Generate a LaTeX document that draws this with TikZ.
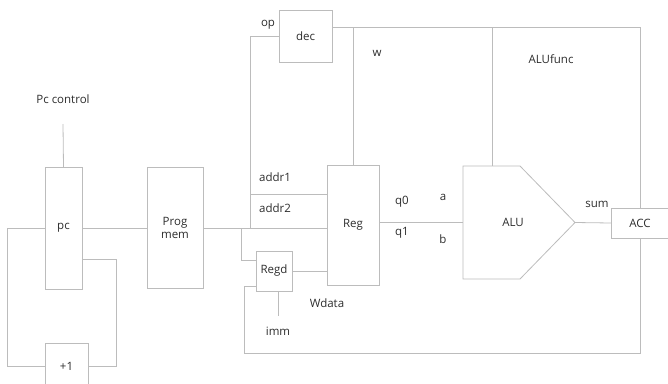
\documentclass[tikz,border=0pt]{standalone}
\usepackage{fontspec}
\setmainfont{Open Sans}
\definecolor{wiregray}{RGB}{188,188,188}
\definecolor{labelgray}{RGB}{45,45,45}
\begin{document}
\begin{tikzpicture}[
    x=1pt, y=-1pt,
    every node/.style={font=\fontsize{11.5}{13.5}\selectfont, text=labelgray, align=center},
    blk/.style={draw=wiregray, line width=0.8pt, inner sep=0pt, outer sep=0pt},
    wire/.style={draw=wiregray, line width=0.8pt},
  ]
\useasboundingbox (0,0) rectangle (668,383);
% --- bus heights
\def\yTop{27}
\def\yBus{228}
\def\yLoop{353}

% --- blocks
\node[blk, minimum width=37pt, minimum height=122pt] (pc) at (63.5,228) {pc};
\node[blk, minimum width=56pt, minimum height=121pt] (progmem) at (175,228) {Prog\\mem};
\node[blk, minimum width=43pt, minimum height=46pt] (plusone) at (66.5,366) {+1};
\node[blk, minimum width=53pt, minimum height=52pt] (dec) at (305.5,36) {dec};
\node[blk, minimum width=52pt, minimum height=120pt] (reg) at (353,225) {Reg};
\node[blk, minimum width=36pt, minimum height=40pt] (regd) at (274,271) {Regd};
\node[blk, fill=white, minimum width=58pt, minimum height=30pt] (acc) at (640,223) {ACC};

% --- ALU outline
\coordinate (alunw) at (463,166);
\coordinate (alutip) at (575,222.5);
\coordinate (alusw) at (463,279);
\draw[wire] (alunw) -- (520,166) -- (alutip) -- (520,279) -- (alusw) -- cycle;
\node (alu) at (513,222.5) {ALU};

% --- pc loop
\coordinate (pcctrl) at (63,124);
\draw[wire] (pcctrl) -- (pc.north);
\draw[wire] (pc.east) -- (progmem.west);
\draw[wire] (pc.west) -- ++(-38,0) |- (plusone.west);
\draw[wire] ([yshift=-31pt]pc.east) -- ++(34,0) |- (plusone.east);

% --- instruction bus
\coordinate (busa) at (250,\yBus);
\coordinate (busb) at (241,\yBus);
\draw[wire] (progmem.east) -- (progmem.east -| reg.west);
\draw[wire] (dec.west) -| (busa);
\draw[wire] (busa |- 0,194) -- (reg.west |- 0,194);
\draw[wire] (busb) |- ([yshift=11pt]regd.west);
\draw[wire] (regd.east) -- (regd.east -| reg.west);
\coordinate (imm) at (278,316);
\draw[wire] (regd.south -| imm) -- (imm);

% --- control lines from dec
\draw[wire] (dec.east |- 0,\yTop) -| (acc.north);
\draw[wire] (reg.north |- 0,\yTop) -- (reg.north);
\draw[wire] (492,\yTop) -- (492,166);

% --- datapath
\draw[wire] (reg.east |- alutip) -- (alunw |- alutip);
\draw[wire] (alutip) -- (acc.west);
\draw[wire] (acc.south) -- (acc.south |- 0,\yLoop) -| (244,286) -- ([yshift=-15pt]regd.west);

% --- labels
\node (lpcctrl) at (63,99) {Pc control};
\node (lop) at (268,25) {op};
\node (lw) at (377,53) {w};
\node (laluf) at (551,59) {ALUfunc};
\node (laddra) at (275,177) {addr1};
\node (laddrb) at (275,208) {addr2};
\node (lqa) at (402,202) {q0};
\node (lqb) at (402,233) {q1};
\node (la) at (443,197) {a};
\node (lb) at (443,239) {b};
\node (lsum) at (597,204) {sum};
\node (lwdata) at (327,303) {Wdata};
\node (limm) at (278,331) {imm};
\end{tikzpicture}
\end{document}
